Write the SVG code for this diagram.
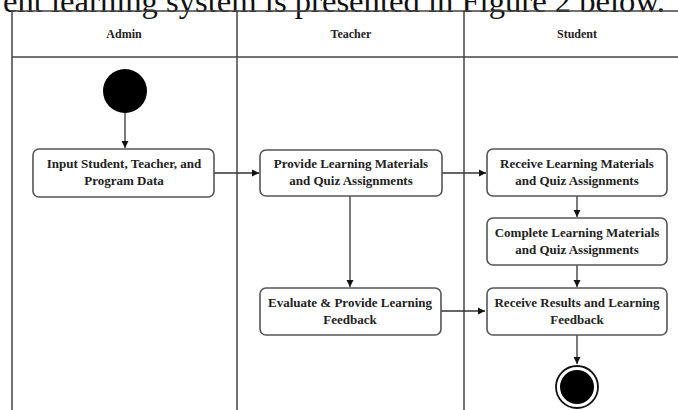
<svg xmlns="http://www.w3.org/2000/svg" width="678" height="410" viewBox="0 0 678 410">
  <style>
    .caption { font-family: "Liberation Serif", "Times New Roman", serif; font-size: 32px; fill: #111; }
    .lane { fill: none; stroke: #444; stroke-width: 1.5; }
    .head { font-family: "Liberation Serif", "Times New Roman", serif; font-size: 12px; font-weight: bold; fill: #222; text-anchor: middle; }
    .act rect { fill: #fff; stroke: #555; stroke-width: 1.6; }
    .act text { font-family: "Liberation Serif", "Times New Roman", serif; font-size: 13px; font-weight: bold; fill: #222; text-anchor: middle; }
    .edge { fill: none; stroke: #333; stroke-width: 1.3; marker-end: url(#arrow); }
  </style>
  <defs>
    <marker id="arrow" markerWidth="8" markerHeight="8" refX="7" refY="4" orient="auto" markerUnits="userSpaceOnUse">
      <path d="M0,0.5 L7,4 L0,7.5 Z" fill="#111"/>
    </marker>
  </defs>
  <rect width="678" height="410" fill="#fff"/>

  <!-- running text line above the figure -->
  <text class="caption" x="3" y="12" textLength="662" lengthAdjust="spacingAndGlyphs">ent learning system is presented in Figure 2 below.</text>

  <!-- swimlane frame -->
  <g id="lanes">
    <rect class="lane" x="12" y="11" width="690" height="420"/>
    <line class="lane" x1="12" y1="57" x2="678" y2="57"/>
    <line class="lane" x1="237" y1="11" x2="237" y2="410"/>
    <line class="lane" x1="464" y1="11" x2="464" y2="410"/>
    <text class="head" x="124" y="38">Admin</text>
    <text class="head" x="351" y="38">Teacher</text>
    <text class="head" x="577" y="38">Student</text>
  </g>

  <!-- connectors -->
  <g id="connectors">
    <line class="edge" x1="125" y1="113" x2="125" y2="148"/>
    <line class="edge" x1="214" y1="173" x2="259" y2="173"/>
    <line class="edge" x1="442" y1="173" x2="486" y2="173"/>
    <line class="edge" x1="350" y1="196" x2="350" y2="287"/>
    <line class="edge" x1="577" y1="196" x2="577" y2="217"/>
    <line class="edge" x1="577" y1="265" x2="577" y2="287"/>
    <line class="edge" x1="441" y1="311" x2="485" y2="311"/>
    <line class="edge" x1="577" y1="335" x2="577" y2="364"/>
  </g>

  <!-- start node -->
  <g id="start">
    <circle cx="125" cy="91" r="22" fill="#000"/>
  </g>

  <g id="input-data" class="act">
    <rect x="33" y="149" width="181" height="48" rx="6"/>
    <text x="124" y="168">Input Student, Teacher, and</text>
    <text x="124" y="185">Program Data</text>
  </g>

  <g id="provide-materials" class="act">
    <rect x="260" y="150" width="182" height="46" rx="6"/>
    <text x="351" y="168">Provide Learning Materials</text>
    <text x="351" y="185">and Quiz Assignments</text>
  </g>

  <g id="receive-materials" class="act">
    <rect x="487" y="149" width="180" height="47" rx="6"/>
    <text x="577" y="168">Receive Learning Materials</text>
    <text x="577" y="185">and Quiz Assignments</text>
  </g>

  <g id="complete-materials" class="act">
    <rect x="487" y="218" width="180" height="47" rx="6"/>
    <text x="577" y="237">Complete Learning Materials</text>
    <text x="577" y="254">and Quiz Assignments</text>
  </g>

  <g id="evaluate-feedback" class="act">
    <rect x="260" y="288" width="181" height="47" rx="6"/>
    <text x="350" y="307">Evaluate &amp; Provide Learning</text>
    <text x="350" y="324">Feedback</text>
  </g>

  <g id="receive-results" class="act">
    <rect x="487" y="288" width="180" height="47" rx="6"/>
    <text x="577" y="307">Receive Results and Learning</text>
    <text x="577" y="324">Feedback</text>
  </g>

  <!-- end node -->
  <g id="end">
    <circle cx="577" cy="387" r="21" fill="#fff" stroke="#111" stroke-width="1.8"/>
    <circle cx="577" cy="387" r="17" fill="#000"/>
  </g>
</svg>
